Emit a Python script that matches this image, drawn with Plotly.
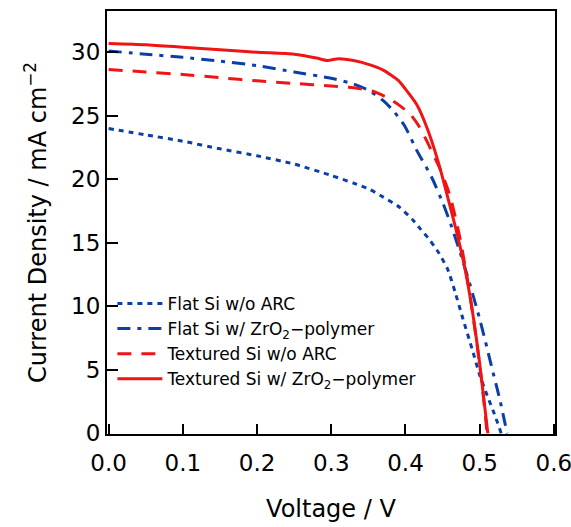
import plotly.graph_objects as go

# ---- data ----
v_flat_noarc = [0, 0.05, 0.1, 0.15, 0.2, 0.25, 0.3, 0.33, 0.352, 0.37, 0.392, 0.41, 0.42, 0.433, 0.445, 0.457, 0.467, 0.4775, 0.49, 0.5, 0.51, 0.52, 0.529]
j_flat_noarc = [24.0, 23.5, 23.0, 22.4, 21.85, 21.2, 20.3, 19.7, 19.2, 18.6, 17.8, 16.8, 16.1, 15.2, 14.2, 12.9, 11.1, 9.0, 6.6, 4.6, 3.0, 1.5, 0.0]

v_flat_zro2 = [0, 0.05, 0.1, 0.15, 0.2, 0.25, 0.3, 0.33, 0.352, 0.372, 0.385, 0.399, 0.415, 0.435, 0.4506, 0.462, 0.475, 0.487, 0.5, 0.51, 0.518, 0.527, 0.537]
j_flat_zro2 = [30.1, 29.85, 29.6, 29.3, 28.95, 28.45, 27.95, 27.5, 26.95, 26.1, 25.3, 24.2, 22.3, 20.2, 18.1, 16.3, 14.0, 11.7, 9.0, 6.7, 4.8, 2.7, 0.0]

v_tex_noarc = [0, 0.05, 0.1, 0.15, 0.2, 0.25, 0.3, 0.33, 0.355, 0.375, 0.39, 0.406, 0.418, 0.428, 0.437, 0.446, 0.46, 0.473, 0.485, 0.495, 0.503, 0.510]
j_tex_noarc = [28.65, 28.45, 28.25, 28.0, 27.75, 27.55, 27.35, 27.2, 26.95, 26.45, 25.9, 25.15, 24.2, 23.1, 22.0, 20.9, 18.7, 15.5, 11.6, 7.6, 4.0, 0.0]

v_tex_zro2 = [0, 0.05, 0.1, 0.15, 0.2, 0.25, 0.28, 0.295, 0.31, 0.33, 0.35, 0.37, 0.39, 0.40, 0.415, 0.43, 0.445, 0.46, 0.47, 0.48, 0.49, 0.50, 0.511]
j_tex_zro2 = [30.7, 30.6, 30.4, 30.2, 30.0, 29.85, 29.55, 29.35, 29.5, 29.35, 29.05, 28.6, 27.8, 27.1, 25.9, 23.9, 21.2, 17.9, 15.6, 13.0, 9.7, 5.5, 0.0]

names = ["Flat Si w/o ARC", "Flat Si w/ ZrO<sub>2</sub>\u2212polymer",
         "Textured Si w/o ARC", "Textured Si w/ ZrO<sub>2</sub>\u2212polymer"]

x_ticks = [0.0, 0.1, 0.2, 0.3, 0.4, 0.5, 0.6]
x_tick_labels = ["0.0", "0.1", "0.2", "0.3", "0.4", "0.5", "0.6"]
y_ticks = [0, 5, 10, 15, 20, 25, 30]

BLUE = "#0a3fa8"
RED = "#f01414"
FONT = "DejaVu Sans"

fig = go.Figure()
fig.add_trace(go.Scatter(x=v_flat_noarc, y=j_flat_noarc, mode="lines", name=names[0],
                         line=dict(color=BLUE, width=3, dash="5px,5px", shape="spline", smoothing=0.6), legendgroup="a"))
fig.add_trace(go.Scatter(x=v_flat_zro2, y=j_flat_zro2, mode="lines", name=names[1],
                         line=dict(color=BLUE, width=3, dash="13px,7px,4px,7px", shape="spline", smoothing=0.6), legendgroup="b"))
fig.add_trace(go.Scatter(x=v_tex_noarc, y=j_tex_noarc, mode="lines", name=names[2],
                         line=dict(color=RED, width=3, dash="14px,10px", shape="spline", smoothing=0.6), legendgroup="c"))
fig.add_trace(go.Scatter(x=v_tex_zro2, y=j_tex_zro2, mode="lines", name=names[3],
                         line=dict(color=RED, width=3, dash="solid", shape="spline", smoothing=0.6), legendgroup="d"))

fig.update_layout(
    width=571, height=527,
    margin=dict(l=107, r=16, t=11, b=93),
    plot_bgcolor="white", paper_bgcolor="white",
    font=dict(family=FONT, color="black"),
    showlegend=True,
    legend=dict(x=0.012, y=0.35, xanchor="left", yanchor="top",
                bgcolor="rgba(0,0,0,0)", font=dict(size=17, family=FONT),
                tracegroupgap=0, traceorder="grouped", itemwidth=45),
    xaxis=dict(range=[-0.0022, 0.6015], tickvals=x_ticks, ticktext=x_tick_labels,
               ticks="inside", ticklen=10, tickwidth=2, tickcolor="black",
               showline=True, linecolor="black", linewidth=2, mirror=True,
               showgrid=False, zeroline=False, ticklabeloverflow="allow",
               ticklabelstandoff=7, automargin=False,
               tickfont=dict(size=23, family=FONT),
               title=dict(text="Voltage / V", font=dict(size=24, family=FONT), standoff=26)),
    yaxis=dict(range=[-0.05, 33.25], tickvals=y_ticks,
               ticks="inside", ticklen=11, tickwidth=2, tickcolor="black",
               showline=True, linecolor="black", linewidth=2, mirror=True,
               showgrid=False, zeroline=False, automargin=False,
               tickfont=dict(size=23, family=FONT),
               title=dict(text="Current Density / mA cm<sup>\u22122</sup>", font=dict(size=24, family=FONT), standoff=18)),
)

fig.write_html("out.html")
